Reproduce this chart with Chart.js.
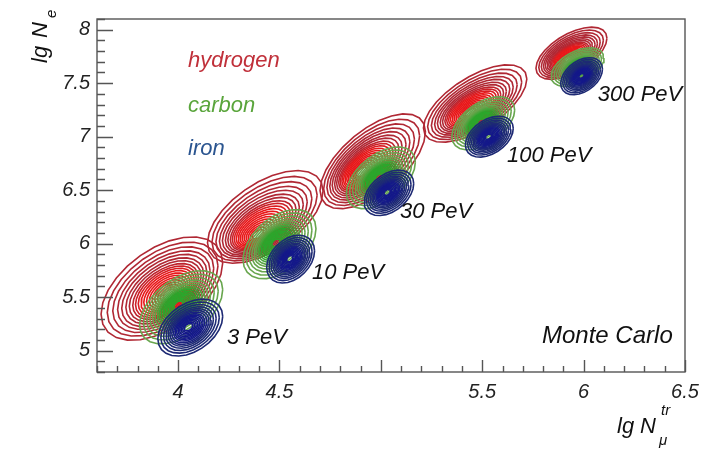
<!DOCTYPE html>
<html><head><meta charset="utf-8">
<script src="https://cdn.jsdelivr.net/npm/chart.js@4.4.0/dist/chart.umd.min.js"></script>
<style>html,body{margin:0;padding:0;background:#fff;}#wrap{width:712px;height:451px;}</style>
</head><body><div id="wrap"><canvas id="c" width="712" height="451"></canvas></div>
<script>
// ---------- data ----------
const energies = ['3 PeV', '10 PeV', '30 PeV', '100 PeV', '300 PeV'];
const species = ['hydrogen', 'carbon', 'iron'];

// hydrogen: outer-contour centre, peak, half-width (lg N_mu), half-thickness (lg N_e), tilt
const hydrogenCenterX = [3.92, 4.43, 4.96, 5.465, 5.94];
const hydrogenCenterY = [5.58, 6.25, 6.77, 7.31, 7.78];
const hydrogenPeakX = [3.96, 4.39, 4.90, 5.44, 5.92];
const hydrogenPeakY = [5.52, 6.07, 6.66, 7.22, 7.72];
const hydrogenHalfWidth = [0.30, 0.285, 0.26, 0.255, 0.175];
const hydrogenHalfHeight = [0.42, 0.36, 0.35, 0.28, 0.20];
const hydrogenTilt = [0.8, 0.85, 1.05, 0.9, 0.8];

// carbon
const carbonCenterX = [4.015, 4.50, 5.00, 5.505, 5.97];
const carbonCenterY = [5.405, 5.995, 6.615, 7.125, 7.65];
const carbonPeakX = [4.00, 4.48, 4.99, 5.49, 5.98];
const carbonPeakY = [5.43, 6.01, 6.62, 7.14, 7.65];
const carbonHalfWidth = [0.205, 0.18, 0.17, 0.155, 0.13];
const carbonHalfHeight = [0.30, 0.29, 0.25, 0.215, 0.16];
const carbonTilt = [0.8, 0.8, 0.85, 0.8, 0.65];

// iron
const ironCenterX = [4.06, 4.555, 5.04, 5.535, 5.99];
const ironCenterY = [5.215, 5.855, 6.475, 7.00, 7.565];
const ironPeakX = [4.05, 4.55, 5.03, 5.53, 5.99];
const ironPeakY = [5.22, 5.86, 6.48, 7.00, 7.57];
const ironHalfWidth = [0.16, 0.118, 0.122, 0.118, 0.103];
const ironHalfHeight = [0.245, 0.21, 0.195, 0.175, 0.16];
const ironTilt = [0.65, 0.65, 0.7, 0.65, 0.65];

// relative contour sizes (outermost = 1)
const hydrogenLevels = [1, 0.91, 0.83, 0.76, 0.70, 0.64, 0.59, 0.54, 0.50, 0.46, 0.42, 0.38, 0.34, 0.30, 0.26, 0.22, 0.18, 0.14, 0.10];
const carbonLevels = [1, 0.9, 0.81, 0.73, 0.66, 0.60, 0.54, 0.49, 0.44, 0.39, 0.35, 0.31, 0.27, 0.23, 0.19, 0.15, 0.11];
const ironLevels = [1, 0.9, 0.81, 0.73, 0.66, 0.60, 0.54, 0.48, 0.43, 0.38, 0.33, 0.28, 0.23, 0.18, 0.13];

// axis ranges / ticks
const xRange = [3.6, 6.5];
const yRange = [4.8, 8.1];
const minorStep = 0.1;
const majorStep = 0.5;
const hiddenXLabels = [5];

// ---------- styling ----------
const style = {
  hydrogen: {outer: [176, 40, 52], inner: [232, 24, 26], order: 3, fade: 6},
  carbon:   {outer: [104, 166, 78], inner: [44, 166, 44], order: 2, fade: 4},
  iron:     {outer: [30, 42, 116], inner: [20, 24, 138], order: 1, fade: 4}
};
const textColors = {hydrogen: '#c0303a', carbon: '#5aa53c', iron: '#2b5590'};
const energyLabelPos = [[4.241, 5.063], [4.66, 5.67], [5.094, 6.24], [5.622, 6.767], [6.07, 7.33]];

const sets = {
  hydrogen: {cx: hydrogenCenterX, cy: hydrogenCenterY, px: hydrogenPeakX, py: hydrogenPeakY, hw: hydrogenHalfWidth, hh: hydrogenHalfHeight, k: hydrogenTilt, lv: hydrogenLevels},
  carbon: {cx: carbonCenterX, cy: carbonCenterY, px: carbonPeakX, py: carbonPeakY, hw: carbonHalfWidth, hh: carbonHalfHeight, k: carbonTilt, lv: carbonLevels},
  iron: {cx: ironCenterX, cy: ironCenterY, px: ironPeakX, py: ironPeakY, hw: ironHalfWidth, hh: ironHalfHeight, k: ironTilt, lv: ironLevels}
};

function contour(s, e, f, n) {
  const cx = s.px[e] + (s.cx[e] - s.px[e]) * f;
  const cy = s.py[e] + (s.cy[e] - s.py[e]) * f;
  const rx = s.hw[e] * f, ry = s.hh[e] * f, k = s.k[e];
  const pts = [];
  for (let i = 0; i <= n; i++) {
    const t = 2 * Math.PI * i / n;
    const dx = rx * Math.cos(t);
    pts.push({x: cx + dx, y: cy + ry * Math.sin(t) + k * dx});
  }
  return pts;
}
function mix(a, b, t) {
  t = Math.max(0, Math.min(1, t));
  return 'rgb(' + a.map((v, i) => Math.round(v + (b[i] - v) * t)).join(',') + ')';
}

const datasets = [];
species.forEach(sp => {
  const s = sets[sp], st = style[sp];
  energies.forEach((en, e) => {
    s.lv.forEach((f, li) => {
      datasets.push({
        label: sp + ' ' + en,
        data: contour(s, e, f, 26),
        showLine: true,
        borderColor: mix(st.outer, st.inner, (li - st.fade) / 4),
        borderWidth: 1.6,
        pointRadius: 0,
        fill: false,
        order: st.order
      });
    });
  });
});

const isMajor = v => Math.abs(v / majorStep - Math.round(v / majorStep)) < 1e-6;
const fmt = v => String(Math.round(v * 10) / 10);

const decor = {
  id: 'decor',
  afterDraw(chart) {
    const ctx = chart.ctx, a = chart.chartArea, xs = chart.scales.x, ys = chart.scales.y;
    ctx.save();
    ctx.strokeStyle = '#555';
    ctx.lineWidth = 1.4;
    ctx.beginPath();
    xs.ticks.forEach(t => {
      const p = Math.round(xs.getPixelForValue(t.value)) + 0.5;
      const L = isMajor(t.value) ? 12 : 6;
      ctx.moveTo(p, a.bottom); ctx.lineTo(p, a.bottom - L);
    });
    ys.ticks.forEach(t => {
      const p = Math.round(ys.getPixelForValue(t.value)) + 0.5;
      const L = isMajor(t.value) ? 16 : 8;
      ctx.moveTo(a.left, p); ctx.lineTo(a.left + L, p);
    });
    ctx.stroke();
    ctx.strokeRect(a.left, a.top, a.right - a.left, a.bottom - a.top);

    // species labels
    ctx.font = 'italic 22px "Liberation Sans", Arial, sans-serif';
    ctx.textBaseline = 'alphabetic';
    ctx.textAlign = 'left';
    const legendBase = [67, 112, 155];
    species.forEach((sp, i) => {
      ctx.fillStyle = textColors[sp];
      ctx.fillText(sp, 188, legendBase[i]);
    });
    // energy labels
    ctx.fillStyle = '#111';
    energies.forEach((en, i) => {
      const p = energyLabelPos[i];
      ctx.fillText(en, xs.getPixelForValue(p[0]), ys.getPixelForValue(p[1]));
    });
    ctx.font = 'italic 24px "Liberation Sans", Arial, sans-serif';
    ctx.fillText('Monte Carlo', 542, 343);

    // y title: lg N_e
    ctx.save();
    ctx.translate(47, 63);
    ctx.rotate(-Math.PI / 2);
    ctx.font = 'italic 22px "Liberation Sans", Arial, sans-serif';
    ctx.fillText('lg', 0, 0);
    ctx.fillText('N', 25, 0);
    ctx.font = 'italic 15px "Liberation Sans", Arial, sans-serif';
    ctx.fillText('e', 45, 9);
    ctx.restore();

    // x title: lg N_mu^tr
    ctx.font = 'italic 22px "Liberation Sans", Arial, sans-serif';
    ctx.fillText('lg', 617, 433);
    ctx.fillText('N', 640, 433);
    ctx.font = 'italic 15px "Liberation Sans", Arial, sans-serif';
    ctx.fillText('tr', 661, 415);
    ctx.fillText('\u03bc', 659, 445);
    ctx.restore();
  }
};

new Chart(document.getElementById('c'), {
  type: 'scatter',
  data: {datasets},
  options: {
    responsive: false,
    animation: false,
    devicePixelRatio: 1,
    layout: {padding: {top: 8, right: 27, left: 0, bottom: 0}},
    plugins: {legend: {display: false}, tooltip: {enabled: false}},
    scales: {
      x: {
        type: 'linear', min: xRange[0], max: xRange[1],
        grid: {display: false, drawTicks: false},
        border: {display: false},
        ticks: {
          stepSize: minorStep, autoSkip: false, maxRotation: 0, padding: 8,
          color: '#222',
          font: {family: '"Liberation Sans", Arial, sans-serif', size: 20, style: 'italic'},
          callback: v => (isMajor(v) && v > xRange[0] + 1e-6 && !hiddenXLabels.some(h => Math.abs(h - v) < 1e-6)) ? fmt(v) : ''
        },
        afterFit: s => { s.height = 79; }
      },
      y: {
        type: 'linear', min: yRange[0], max: yRange[1],
        grid: {display: false, drawTicks: false},
        border: {display: false},
        ticks: {
          stepSize: minorStep, autoSkip: false, padding: 7,
          color: '#222',
          font: {family: '"Liberation Sans", Arial, sans-serif', size: 20, style: 'italic'},
          callback: v => (isMajor(v) && v > yRange[0] + 1e-6) ? fmt(v) : ''
        },
        afterFit: s => { s.width = 97; }
      }
    }
  },
  plugins: [decor]
});
</script></body></html>
